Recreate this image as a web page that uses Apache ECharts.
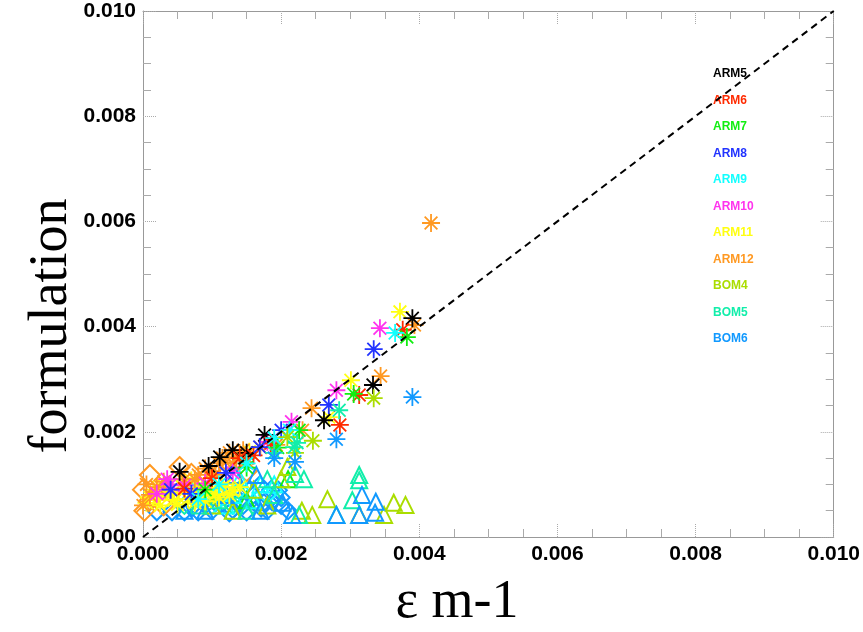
<!DOCTYPE html>
<html>
<head>
<meta charset="utf-8">
<script src="https://cdn.jsdelivr.net/npm/echarts@6/dist/echarts.min.js"></script>
<style>
  html, body { margin: 0; padding: 0; background: #fff; }
  #myChart { width: 863px; height: 632px; }
</style>
</head>
<body>
<div id="myChart"></div>
<script>
// series names and colours
const names = ["ARM5", "ARM6", "ARM7", "ARM8", "ARM9", "ARM10", "ARM11", "ARM12", "BOM4", "BOM5", "BOM6"];
const colors = ["#000000", "#ff2a00", "#11ee11", "#2233ff", "#11ffff", "#ff33ee", "#ffff11", "#ff9922", "#aadd00", "#11eeaa", "#1199ff"];

// 1:1 reference line
const diagonal = [[0, 0], [0.01, 0.01]];

// asterisk points [x, y]
const arm5Stars = [[0.00390,0.00416],[0.00333,0.00289],[0.00262,0.00222],[0.00176,0.00194],[0.00130,0.00165],[0.00111,0.00152],[0.00053,0.00124],[0.00150,0.00160],[0.00095,0.00135]];
const arm6Stars = [[0.00376,0.00394],[0.00313,0.00270],[0.00285,0.00213],[0.00185,0.00178],[0.00140,0.00150],[0.00100,0.00112],[0.00060,0.00092],[0.00160,0.00155]];
const arm7Stars = [[0.00382,0.00380],[0.00305,0.00272],[0.00226,0.00203],[0.00150,0.00132],[0.00090,0.00090],[0.00195,0.00170]];
const arm8Stars = [[0.00334,0.00357],[0.00269,0.00251],[0.00200,0.00203],[0.00169,0.00171],[0.00120,0.00122],[0.00070,0.00082],[0.00040,0.00090]];
const arm9Stars = [[0.00365,0.00388],[0.00212,0.00203],[0.00190,0.00188],[0.00150,0.00140],[0.00110,0.00100],[0.00080,0.00072]];
const arm10Stars = [[0.00343,0.00397],[0.00280,0.00279],[0.00215,0.00219],[0.00180,0.00181],[0.00130,0.00122],[0.00090,0.00102],[0.00040,0.00100],[0.00020,0.00082],[0.00060,0.00098],[0.00035,0.00110]];
const arm11Stars = [[0.00372,0.00428],[0.00301,0.00298],[0.00269,0.00228],[0.00154,0.00162],[0.00100,0.00112],[0.00020,0.00070],[0.00040,0.00080],[0.00060,0.00088],[0.00080,0.00080],[0.00100,0.00090],[0.00120,0.00100],[0.00050,0.00062],[0.00030,0.00098],[0.00070,0.00108],[0.00090,0.00068],[0.00110,0.00075],[0.00015,0.00090],[0.00065,0.00072],[0.00130,0.00088],[0.00025,0.00060],[0.00045,0.00070],[0.00075,0.00065],[0.00085,0.00095],[0.00105,0.00082],[0.00115,0.00095],[0.00035,0.00085],[0.00055,0.00100],[0.00010,0.00075],[0.00140,0.00095],[0.00125,0.00080],[0.00095,0.00100],[0.00005,0.00065]];
const arm12Stars = [[0.00417,0.00597],[0.00393,0.00403],[0.00344,0.00306],[0.00244,0.00245],[0.00231,0.00203],[0.00193,0.00175],[0.00140,0.00159],[0.00125,0.00160],[0.00135,0.00150],[0.00110,0.00140],[0.00100,0.00125],[0.00145,0.00165],[0.00120,0.00142],[0.00170,0.00170],[0.00060,0.00110],[0.00040,0.00090],[0.00010,0.00080],[0.00000,0.00060],[0.00005,0.00100],[0.00080,0.00118],[0.00090,0.00130],[0.00115,0.00150],[0.00130,0.00140],[0.00105,0.00118],[0.00150,0.00150],[0.00075,0.00110],[0.00030,0.00105],[0.00020,0.00095]];
const bom4Stars = [[0.00334,0.00264],[0.00246,0.00183],[0.00209,0.00190],[0.00220,0.00160]];
const bom5Stars = [[0.00284,0.00241],[0.00219,0.00171],[0.00223,0.00179],[0.00190,0.00160]];
const bom6Stars = [[0.00390,0.00266],[0.00280,0.00186],[0.00220,0.00143],[0.00190,0.00150]];

// diamond points
const arm9Diamonds = [[0.00100,0.00060],[0.00140,0.00090],[0.00180,0.00080]];
const arm10Diamonds = [[0.00030,0.00090],[0.00070,0.00095]];
const arm11Diamonds = [[0.00030,0.00070],[0.00060,0.00080],[0.00090,0.00090],[0.00045,0.00095],[0.00020,0.00085],[0.00075,0.00070],[0.00110,0.00085]];
const arm12Diamonds = [[0.00010,0.00118],[0.00053,0.00133],[0.00010,0.00070],[0.00000,0.00090],[0.00030,0.00060],[0.00070,0.00120],[0.00150,0.00125],[0.00002,0.00050]];
const bom5Diamonds = [[0.00090,0.00070],[0.00130,0.00060],[0.00160,0.00060],[0.00060,0.00060]];
const bom6Diamonds = [[0.00020,0.00048],[0.00042,0.00048],[0.00080,0.00048],[0.00100,0.00050],[0.00125,0.00046],[0.00150,0.00048],[0.00171,0.00055],[0.00187,0.00067],[0.00196,0.00089],[0.00169,0.00099],[0.00120,0.00060],[0.00140,0.00070],[0.00110,0.00080],[0.00160,0.00080],[0.00180,0.00050],[0.00200,0.00060],[0.00210,0.00050],[0.00190,0.00072],[0.00060,0.00048],[0.00090,0.00060],[0.00070,0.00055],[0.00130,0.00052],[0.00145,0.00060],[0.00175,0.00065],[0.00200,0.00075],[0.00185,0.00090],[0.00155,0.00090],[0.00105,0.00065]];

// triangle points
const arm7Tri = [[0.00210,0.00110],[0.00150,0.00070]];
const arm9Tri = [[0.00100,0.00100],[0.00130,0.00080],[0.00170,0.00100],[0.00070,0.00090],[0.00120,0.00060],[0.00160,0.00070],[0.00140,0.00110],[0.00190,0.00100],[0.00085,0.00075]];
const bom4Tri = [[0.00267,0.00072],[0.00363,0.00065],[0.00380,0.00061],[0.00245,0.00042],[0.00313,0.00042],[0.00349,0.00042],[0.00209,0.00133],[0.00160,0.00090],[0.00180,0.00060],[0.00130,0.00050],[0.00230,0.00050],[0.00200,0.00110],[0.00100,0.00060]];
const bom5Tri = [[0.00233,0.00110],[0.00313,0.00118],[0.00313,0.00108],[0.00303,0.00070],[0.00280,0.00042],[0.00226,0.00042],[0.00220,0.00120],[0.00180,0.00110],[0.00140,0.00090],[0.00110,0.00070],[0.00080,0.00060],[0.00150,0.00050],[0.00190,0.00080]];
const bom6Tri = [[0.00317,0.00080],[0.00337,0.00067],[0.00336,0.00046],[0.00313,0.00042],[0.00280,0.00042],[0.00216,0.00042],[0.00133,0.00118],[0.00164,0.00118],[0.00202,0.00065],[0.00120,0.00080],[0.00090,0.00050],[0.00170,0.00050],[0.00060,0.00050]];

// 8-ray asterisk
const STAR = "path://M0,9L20,9L20,11L0,11Z M9,0L11,0L11,20L9,20Z M3.64,2.22L17.78,16.36L16.36,17.78L2.22,3.64Z M17.78,3.64L3.64,17.78L2.22,16.36L16.36,2.22Z";

function colorOf(name) { return colors[names.indexOf(name)]; }

function starSeries(name, data) {
  return { name: name, type: "scatter", data: data, symbol: STAR, symbolSize: 18,
    itemStyle: { color: colorOf(name), opacity: 1 }, z: 3 };
}
function hollowSeries(name, data, shape, size) {
  return { name: name, type: "scatter", data: data, symbol: shape, symbolSize: size,
    itemStyle: { color: "rgba(0,0,0,0)", borderColor: colorOf(name), borderWidth: 2, opacity: 1 }, z: 2 };
}

const labelFont = { fontFamily: "Liberation Sans, Arial", fontWeight: "bold", fontSize: 21, color: "#000" };

function axisCommon(pos, showLabel) {
  return {
    type: "value", min: 0, max: 0.01, interval: 0.002, position: pos,
    axisLine: { show: true, onZero: false, lineStyle: { color: "#999", width: 1 } },
    axisTick: { show: true, inside: true, length: 13, lineStyle: { color: "#aaa", type: "dotted" } },
    minorTick: { show: true, splitNumber: 4, length: 8, lineStyle: { color: "#aaa" } },
    splitLine: { show: false },
    axisLabel: Object.assign({ show: showLabel, margin: 7, formatter: v => v.toFixed(3) }, labelFont)
  };
}

let myChart = echarts.init(document.getElementById("myChart"));

let series = [
  hollowSeries("BOM6", bom6Diamonds, "diamond", 17),
  hollowSeries("BOM5", bom5Diamonds, "diamond", 17),
  hollowSeries("ARM9", arm9Diamonds, "diamond", 17),
  hollowSeries("ARM10", arm10Diamonds, "diamond", 17),
  hollowSeries("ARM11", arm11Diamonds, "diamond", 17),
  hollowSeries("ARM12", arm12Diamonds, "diamond", 20),
  hollowSeries("ARM7", arm7Tri, "triangle", 16),
  hollowSeries("ARM9", arm9Tri, "triangle", 16),
  hollowSeries("BOM4", bom4Tri, "triangle", 16),
  hollowSeries("BOM5", bom5Tri, "triangle", 16),
  hollowSeries("BOM6", bom6Tri, "triangle", 16),
  starSeries("ARM11", arm11Stars),
  starSeries("ARM12", arm12Stars),
  starSeries("ARM10", arm10Stars),
  starSeries("ARM5", arm5Stars),
  starSeries("ARM6", arm6Stars),
  starSeries("ARM7", arm7Stars),
  starSeries("ARM8", arm8Stars),
  starSeries("ARM9", arm9Stars),
  starSeries("BOM4", bom4Stars),
  starSeries("BOM5", bom5Stars),
  starSeries("BOM6", bom6Stars),
  {
    name: "diag", type: "line", data: diagonal, symbol: "none", z: 5,
    lineStyle: { color: "#000", width: 2, type: [7, 5] }
  }
];

let option = {
  animation: false,
  backgroundColor: "#fff",
  grid: { left: 143, right: 26, top: 11, bottom: 95 },
  legend: {
    data: names.map((n, i) => ({ name: n, textStyle: { color: colors[i] } })),
    orient: "vertical", left: 703, top: 62,
    icon: "none", itemWidth: 0, itemHeight: 14, itemGap: 13.5,
    selectedMode: false,
    textStyle: { fontFamily: "Liberation Sans, Arial", fontSize: 12, fontWeight: "bold" }
  },
  xAxis: [axisCommon("bottom", true), axisCommon("top", false)],
  yAxis: [axisCommon("left", true), axisCommon("right", false)],
  graphic: [
    { type: "text", x: 52, y: 326, rotation: Math.PI / 2,
      style: { text: "formulation", font: '54px "Liberation Serif"', fill: "#000", align: "center", verticalAlign: "middle" } },
    { type: "text", x: 457, y: 603,
      style: { text: "ε m-1", font: '54px "Liberation Serif"', fill: "#000", align: "center", verticalAlign: "middle" } }
  ],
  series: series
};
myChart.setOption(option);
</script>
</body>
</html>
